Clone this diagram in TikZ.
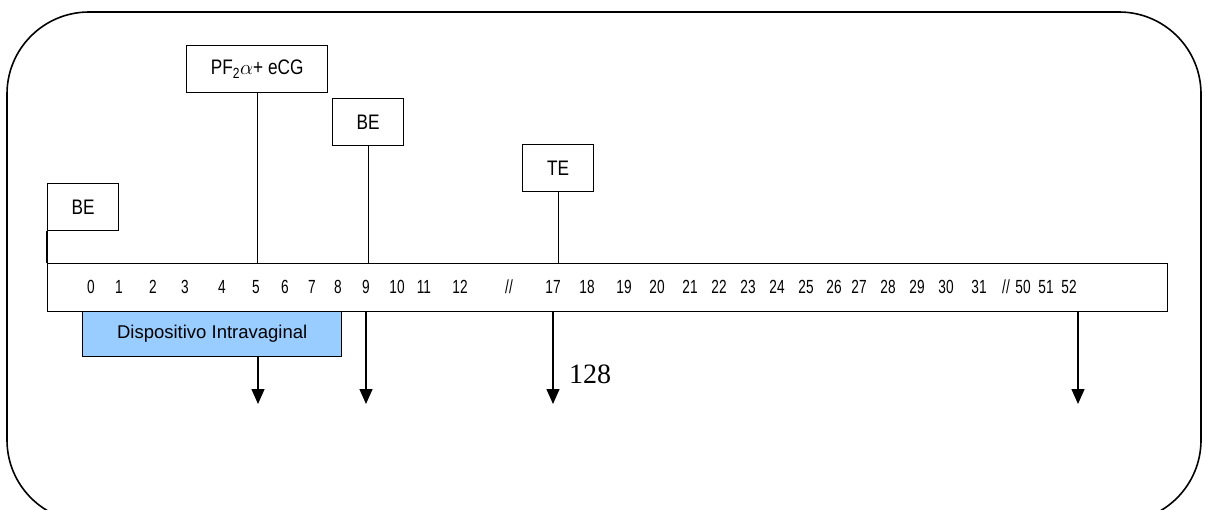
\documentclass[tikz,border=0pt]{standalone}
\usepackage{fontspec}
\setsansfont{Liberation Sans}
\newfontfamily\lblfont[FakeStretch=0.82]{Liberation Sans}
\newfontfamily\narrowfont[FakeStretch=0.72]{Liberation Sans}
\newfontfamily\serifnum{Liberation Serif}
\usetikzlibrary{arrows.meta, positioning}
\definecolor{dispblue}{RGB}{153, 204, 255}

\begin{document}
\begin{tikzpicture}[
    x=1pt, y=-1pt,
    evbox/.style={draw, line width=1.4pt, inner sep=0pt, anchor=north west, minimum width=71pt, minimum height=47pt, font=\lblfont\fontsize{21}{23}\selectfont},
    daynum/.style={inner sep=0pt, font=\narrowfont\fontsize{19}{21}\selectfont},
    link/.style={line width=1.4pt},
    arr/.style={line width=1.4pt, -{Triangle[width=13pt, length=15pt]}}
  ]
  \useasboundingbox (0,0) rectangle (1206,509);

  % Outer frame
  \draw[line width=1.6pt, rounded corners=82pt] (7,12) rectangle (1201,522);

  % Device period
  \node[draw, fill=dispblue, line width=1.4pt, inner sep=0pt, anchor=north west, minimum width=259pt, minimum height=45pt, font=\sffamily\fontsize{18.5}{20}\selectfont] (disp) at (82,311) {Dispositivo Intravaginal};

  % Day bar
  \node[draw, line width=1.4pt, inner sep=0pt, anchor=north west, minimum width=1120pt, minimum height=48pt] (bar) at (47,263) {};
  \foreach \x/\d in {91/0, 119/1, 153/2, 185/3, 222/4, 256/5, 285/6, 312/7, 338/8, 366/9, 397/10, 424/11, 460/12,
                     553/17, 587/18, 624/19, 657/20, 690/21, 719/22, 748/23, 777/24, 806/25, 834/26, 859/27, 888/28,
                     917/29, 946/30, 979/31, 1023/50, 1046/51, 1069/52} {
    \node[daynum] (d\d) at (\x, 287) {\d};
  }
  \node[daynum] (cut1) at (509, 287) {//};
  \node[daynum] (cut2) at (1006, 287) {//};

  % Events above the bar
  \node[evbox] (be1) at (47,183) {BE};
  \node[evbox, minimum width=141pt] (pgf) at (186,45) {PF\textsubscript{2}$\alpha$+ eCG};
  \node[evbox] (be2) at (332,98) {BE};
  \node[evbox] (te) at (522,144) {TE};

  \draw[link] (be1.south west) -- (be1.south west |- bar.north);
  \draw[link] (pgf.south) -- (pgf.south |- bar.north);
  \draw[link] (be2.south) -- (be2.south |- bar.north);
  \draw[link] (te.south) -- (te.south |- bar.north);

  % Arrows below the bar
  \coordinate (e5) at (258,404);
  \coordinate (e9) at (366,404);
  \coordinate (e17) at (553,404);
  \coordinate (e52) at (1078,404);
  \draw[arr] (disp.south -| e5) -- (e5);
  \draw[arr] (bar.south -| e9) -- (e9);
  \draw[arr] (bar.south -| e17) -- (e17);
  \draw[arr] (bar.south -| e52) -- (e52);

  \node[font=\serifnum\fontsize{28}{30}\selectfont] (cnt) at (590,374) {128};

\end{tikzpicture}
\end{document}
